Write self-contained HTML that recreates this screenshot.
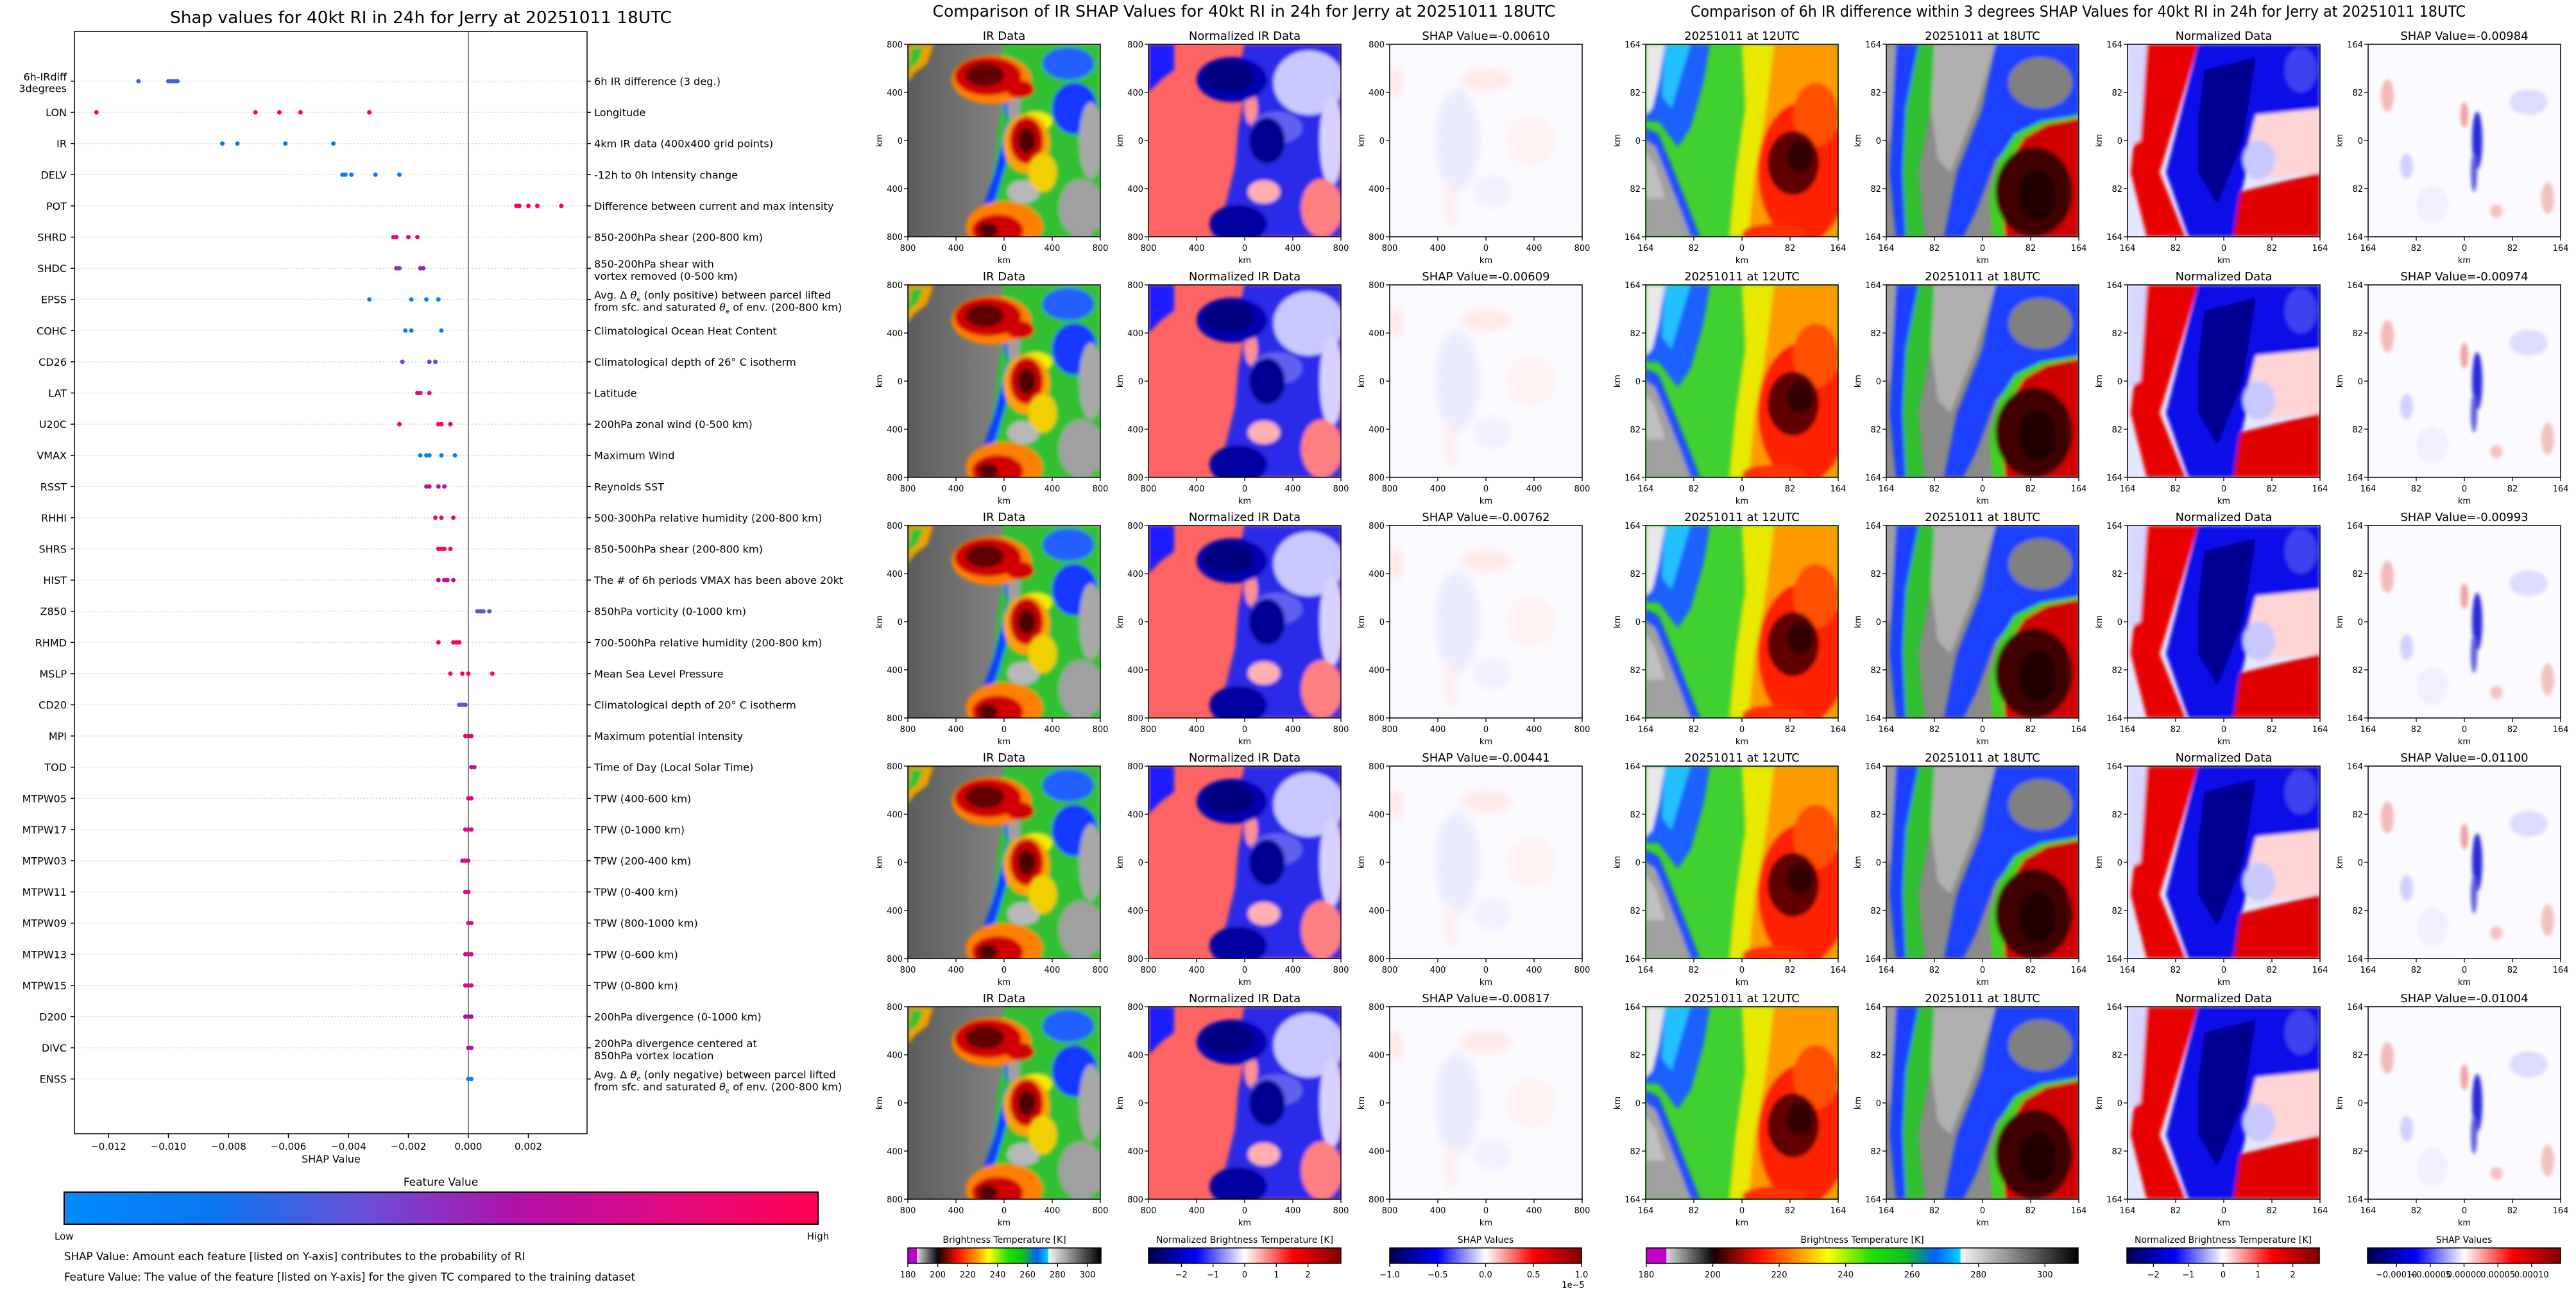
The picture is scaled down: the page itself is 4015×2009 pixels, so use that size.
<!DOCTYPE html>
<html><head><meta charset="utf-8">
<style>
html,body{margin:0;padding:0;background:#fff;}
svg{display:block;font-family:"DejaVu Sans","Liberation Sans",sans-serif;}
</style></head>
<body>
<svg id="fig" xmlns="http://www.w3.org/2000/svg" width="4015" height="2009" viewBox="0 0 4015 2009">
<defs>
  <filter id="bl" x="-5%" y="-5%" width="110%" height="110%"><feGaussianBlur stdDeviation="3"/></filter>
  <filter id="bl6" x="-5%" y="-5%" width="110%" height="110%"><feGaussianBlur stdDeviation="6"/></filter>
  <linearGradient id="grayL" x1="0" x2="1" y1="0" y2="0"><stop offset="0" stop-color="#5c5c5c"/><stop offset="0.6" stop-color="#8a8a8a"/><stop offset="1" stop-color="#b0b0b0"/></linearGradient>
  <linearGradient id="shapCmap" x1="0" x2="1"><stop offset="0" stop-color="#008bfb"/><stop offset="0.2" stop-color="#0b75ee"/><stop offset="0.4" stop-color="#6a4fd8"/><stop offset="0.6" stop-color="#b010a8"/><stop offset="0.8" stop-color="#e00a80"/><stop offset="1" stop-color="#ff0052"/></linearGradient>
  <linearGradient id="irCmap" x1="0" x2="1">
    <stop offset="0" stop-color="#c000c8"/><stop offset="0.046" stop-color="#c000c8"/>
    <stop offset="0.047" stop-color="#d8d8d8"/><stop offset="0.15" stop-color="#101010"/>
    <stop offset="0.16" stop-color="#200000"/><stop offset="0.26" stop-color="#ff1000"/>
    <stop offset="0.36" stop-color="#ffa000"/><stop offset="0.42" stop-color="#ffff00"/>
    <stop offset="0.52" stop-color="#20e000"/><stop offset="0.6" stop-color="#10c020"/>
    <stop offset="0.67" stop-color="#0060ff"/><stop offset="0.725" stop-color="#00d0ff"/>
    <stop offset="0.73" stop-color="#f4f4f4"/><stop offset="1" stop-color="#000000"/>
  </linearGradient>
  <linearGradient id="seis" x1="0" x2="1"><stop offset="0" stop-color="#00004c"/><stop offset="0.25" stop-color="#0000ff"/><stop offset="0.5" stop-color="#ffffff"/><stop offset="0.75" stop-color="#ff0000"/><stop offset="1" stop-color="#800000"/></linearGradient>

  <symbol id="imgIR" viewBox="0 0 300 300" preserveAspectRatio="none">
    <rect width="300" height="300" fill="url(#grayL)"/>
    <g filter="url(#bl)">
      <polygon points="0,0 40,0 30,30 10,45 0,60" fill="#f0a000"/>
      <polygon points="5,5 25,5 15,30 0,40" fill="#30c030"/>
      <polygon points="150,0 300,0 300,300 100,300 120,250 135,190 140,130 150,80 140,40" fill="#30c030"/>
      <polygon points="140,30 160,90 150,140 135,200 115,260 95,300 115,300 140,230 160,160" fill="#1040ff"/>
      <ellipse cx="250" cy="30" rx="40" ry="25" fill="#2060ff"/>
      <ellipse cx="260" cy="100" rx="35" ry="40" fill="#1838ff"/>
      <ellipse cx="285" cy="150" rx="18" ry="60" fill="#a8a8a8"/>
      <ellipse cx="270" cy="255" rx="35" ry="45" fill="#a0a0a0"/>
      <ellipse cx="180" cy="230" rx="25" ry="18" fill="#b8b8b8"/>
      <ellipse cx="165" cy="95" rx="10" ry="25" fill="#a0a0a0"/>
      <ellipse cx="200" cy="120" rx="25" ry="15" fill="#f0f000"/>
      <ellipse cx="130" cy="55" rx="62" ry="38" fill="#ff8000"/>
      <ellipse cx="125" cy="50" rx="52" ry="30" fill="#d00000"/>
      <ellipse cx="175" cy="70" rx="22" ry="14" fill="#d00000"/>
      <ellipse cx="120" cy="48" rx="30" ry="18" fill="#600000"/>
      <ellipse cx="185" cy="155" rx="36" ry="46" fill="#ffa000"/>
      <ellipse cx="185" cy="150" rx="26" ry="36" fill="#c80000"/>
      <ellipse cx="185" cy="150" rx="14" ry="20" fill="#500000"/>
      <ellipse cx="150" cy="285" rx="60" ry="40" fill="#ff8000"/>
      <ellipse cx="140" cy="290" rx="40" ry="25" fill="#d00000"/>
      <ellipse cx="125" cy="290" rx="15" ry="12" fill="#500000"/>
      <ellipse cx="210" cy="200" rx="22" ry="30" fill="#f0d000"/>
    </g>
  </symbol>
  <symbol id="imgNIR" viewBox="0 0 300 300" preserveAspectRatio="none">
    <rect width="300" height="300" fill="#ff6464"/>
    <g filter="url(#bl)">
      <polygon points="0,0 40,0 40,40 20,55 0,75" fill="#1a1aff"/>
      <polygon points="150,0 300,0 300,300 100,300 120,250 135,190 140,130 150,80 140,40" fill="#2a2ae8"/>
      <ellipse cx="250" cy="60" rx="55" ry="50" fill="#c8c8ff"/>
      <ellipse cx="285" cy="150" rx="18" ry="70" fill="#d8d0ff"/>
      <ellipse cx="270" cy="255" rx="32" ry="45" fill="#ff8080"/>
      <ellipse cx="180" cy="230" rx="25" ry="18" fill="#ffb0b0"/>
      <ellipse cx="160" cy="100" rx="10" ry="25" fill="#ff9090"/>
      <ellipse cx="200" cy="130" rx="40" ry="25" fill="#6060f0"/>
      <ellipse cx="130" cy="55" rx="55" ry="35" fill="#0000b0"/>
      <ellipse cx="125" cy="50" rx="40" ry="25" fill="#000080"/>
      <ellipse cx="185" cy="150" rx="28" ry="36" fill="#000090"/>
      <ellipse cx="140" cy="280" rx="45" ry="30" fill="#0000a0"/>
    </g>
  </symbol>
  <symbol id="imgSIR" viewBox="0 0 300 300" preserveAspectRatio="none">
    <rect width="300" height="300" fill="#fbfbff"/>
    <g filter="url(#bl6)" opacity="0.8">
      <ellipse cx="105" cy="150" rx="35" ry="80" fill="#e8e8ff"/>
      <ellipse cx="150" cy="55" rx="40" ry="18" fill="#ffe4e4"/>
      <ellipse cx="10" cy="60" rx="10" ry="25" fill="#ffe0e0"/>
      <ellipse cx="220" cy="150" rx="40" ry="40" fill="#fff0f0"/>
      <ellipse cx="160" cy="230" rx="30" ry="25" fill="#eeeeff"/>
      <ellipse cx="95" cy="250" rx="10" ry="35" fill="#ffe8e8"/>
    </g>
  </symbol>
  <symbol id="img12" viewBox="0 0 300 300" preserveAspectRatio="none">
    <rect width="300" height="300" fill="#40d030"/>
    <g filter="url(#bl)">
      <polygon points="190,0 300,0 300,300 160,300 170,200 185,120" fill="#ff9a00"/>
      <polygon points="150,0 200,0 185,120 170,200 160,300 130,300 140,200 155,100" fill="#e8e800"/>
      <ellipse cx="245" cy="200" rx="70" ry="110" fill="#ff2000"/>
      <ellipse cx="265" cy="110" rx="35" ry="50" fill="#ff5000"/>
      <ellipse cx="230" cy="185" rx="40" ry="50" fill="#600000"/>
      <ellipse cx="240" cy="175" rx="20" ry="25" fill="#300000"/>
      <ellipse cx="200" cy="295" rx="50" ry="15" fill="#ff3000"/>
      <polygon points="0,0 100,0 90,60 70,130 50,160 20,120 0,120" fill="#1e60ff"/>
      <polygon points="30,0 70,0 55,50 40,100 25,80" fill="#20c0ff"/>
      <polygon points="0,0 30,0 20,60 10,100 0,110" fill="#e8e8e8"/>
      <polygon points="0,130 20,140 45,200 65,250 85,300 0,300" fill="#2050ff"/>
      <polygon points="0,150 15,160 35,210 55,260 70,300 0,300" fill="#a0a0a0"/>
      <polygon points="0,170 15,190 30,240 0,240" fill="#c0c0c0"/>
    </g>
  </symbol>
  <symbol id="img18" viewBox="0 0 300 300" preserveAspectRatio="none">
    <rect width="300" height="300" fill="#8a8a8a"/>
    <g filter="url(#bl)">
      <polygon points="15,0 90,0 70,100 50,200 60,300 15,300 5,200 10,100" fill="#30c030"/>
      <polygon points="15,0 50,0 30,100 25,200 30,300 15,300 5,200" fill="#1a40ff"/>
      <polygon points="75,0 170,0 140,100 100,200 80,180 70,100" fill="#b0b0b0"/>
      <polygon points="170,0 300,0 300,120 220,130 170,180 140,260 120,300 90,300 110,200 150,100" fill="#1a40ff"/>
      <ellipse cx="240" cy="60" rx="50" ry="40" fill="#808080"/>
      <polygon points="300,110 240,120 200,140 175,180 160,240 165,300 300,300" fill="#40d020"/>
      <polygon points="300,115 250,125 215,145 190,185 180,240 185,300 300,300" fill="#d00000"/>
      <ellipse cx="230" cy="230" rx="60" ry="70" fill="#400000"/>
      <ellipse cx="235" cy="235" rx="30" ry="40" fill="#200000"/>
      <polygon points="0,0 15,0 5,150 0,150" fill="#a0a0a0"/>
    </g>
  </symbol>
  <symbol id="imgN6" viewBox="0 0 300 300" preserveAspectRatio="none">
    <rect width="300" height="300" fill="#e4e8ff"/>
    <g filter="url(#bl)">
      <polygon points="25,0 110,0 80,100 50,200 90,300 30,300 5,200 15,100" fill="#e80000"/>
      <polygon points="110,0 300,0 300,110 240,130 190,180 175,240 180,300 95,300 60,200 85,100" fill="#1010e8"/>
      <polygon points="120,40 200,20 180,150 140,250 110,200 110,120" fill="#000090"/>
      <polygon points="200,110 300,100 300,200 200,210 185,170" fill="#ffd4d4"/>
      <ellipse cx="205" cy="180" rx="25" ry="30" fill="#c8c8ff"/>
      <polygon points="175,230 300,200 300,300 165,300" fill="#e00000"/>
      <ellipse cx="270" cy="40" rx="25" ry="35" fill="#4040f0"/>
      <polygon points="0,0 30,0 20,150 0,160" fill="#d8d8ff"/>
    </g>
  </symbol>
  <symbol id="imgS6" viewBox="0 0 300 300" preserveAspectRatio="none">
    <rect width="300" height="300" fill="#fbfbff"/>
    <g filter="url(#bl)">
      <ellipse cx="30" cy="80" rx="10" ry="25" fill="#f4b8b8"/>
      <ellipse cx="250" cy="90" rx="30" ry="20" fill="#dcdcff"/>
      <ellipse cx="170" cy="150" rx="8" ry="45" fill="#2a2ad8"/>
      <ellipse cx="165" cy="200" rx="5" ry="30" fill="#6060e0"/>
      <ellipse cx="150" cy="110" rx="6" ry="20" fill="#f0a0a0"/>
      <ellipse cx="60" cy="190" rx="10" ry="20" fill="#d0d0ff"/>
      <ellipse cx="280" cy="240" rx="10" ry="25" fill="#f4c0c0"/>
      <ellipse cx="200" cy="260" rx="10" ry="10" fill="#f4c0c0"/>
      <ellipse cx="100" cy="250" rx="25" ry="30" fill="#f0f0ff"/>
    </g>
  </symbol>
</defs>

<g id="shapPlot">
  <text x="656" y="36" font-size="26" text-anchor="middle" textLength="782" lengthAdjust="spacingAndGlyphs">Shap values for 40kt RI in 24h for Jerry at 20251011 18UTC</text>
  <g id="grid"></g>
  <line x1="730" y1="49" x2="730" y2="1767" stroke="#888" stroke-width="2"/>
  <g id="dots"></g>
  <rect x="116" y="49" width="799" height="1718" fill="none" stroke="#000" stroke-width="1.5"/>
  <g id="ylabels"></g>
  <g id="xticks"></g>
  <text x="516" y="1812" font-size="16" text-anchor="middle">SHAP Value</text>
  <text x="687" y="1848" font-size="17" text-anchor="middle">Feature Value</text>
  <rect x="100" y="1858" width="1175" height="50" fill="url(#shapCmap)" stroke="#000" stroke-width="2"/>
  <text x="85" y="1932" font-size="15">Low</text>
  <text x="1275" y="1932" font-size="15" text-anchor="middle">High</text>
  <text x="100" y="1964" font-size="16.7">SHAP Value: Amount each feature [listed on Y-axis] contributes to the probability of RI</text>
  <text x="100" y="1996" font-size="16.7">Feature Value: The value of the feature [listed on Y-axis] for the given TC compared to the training dataset</text>
</g>

<text x="1939" y="26" font-size="25" text-anchor="middle" textLength="971" lengthAdjust="spacingAndGlyphs">Comparison of IR SHAP Values for 40kt RI in 24h for Jerry at 20251011 18UTC</text>
<text x="3239" y="26" font-size="24" text-anchor="middle" textLength="1208" lengthAdjust="spacingAndGlyphs">Comparison of 6h IR difference within 3 degrees SHAP Values for 40kt RI in 24h for Jerry at 20251011 18UTC</text>
<g id="panels"></g>
<g id="cbars"></g>
</svg>

<script>
const features = ["6h-IRdiff|3degrees","LON","IR","DELV","POT","SHRD","SHDC","EPSS","COHC","CD26","LAT","U20C","VMAX","RSST","RHHI","SHRS","HIST","Z850","RHMD","MSLP","CD20","MPI","TOD","MTPW05","MTPW17","MTPW03","MTPW11","MTPW09","MTPW13","MTPW15","D200","DIVC","ENSS"];
const descriptions = [
 "6h IR difference (3 deg.)","Longitude","4km IR data (400x400 grid points)","-12h to 0h Intensity change",
 "Difference between current and max intensity","850-200hPa shear (200-800 km)",
 "850-200hPa shear with|vortex removed (0-500 km)",
 "Avg. Δ <tspan font-style='italic'>θ</tspan><tspan font-size='10' dy='4'>e</tspan><tspan dy='-4'> (only positive) between parcel lifted</tspan>|from sfc. and saturated <tspan font-style='italic'>θ</tspan><tspan font-size='10' dy='4'>e</tspan><tspan dy='-4'> of env. (200-800 km)</tspan>",
 "Climatological Ocean Heat Content","Climatological depth of 26° C isotherm","Latitude","200hPa zonal wind (0-500 km)",
 "Maximum Wind","Reynolds SST","500-300hPa relative humidity (200-800 km)","850-500hPa shear (200-800 km)",
 "The # of 6h periods VMAX has been above 20kt","850hPa vorticity (0-1000 km)","700-500hPa relative humidity (200-800 km)",
 "Mean Sea Level Pressure","Climatological depth of 20° C isotherm","Maximum potential intensity","Time of Day (Local Solar Time)",
 "TPW (400-600 km)","TPW (0-1000 km)","TPW (200-400 km)","TPW (0-400 km)","TPW (800-1000 km)","TPW (0-600 km)","TPW (0-800 km)",
 "200hPa divergence (0-1000 km)","200hPa divergence centered at|850hPa vortex location",
 "Avg. Δ <tspan font-style='italic'>θ</tspan><tspan font-size='10' dy='4'>e</tspan><tspan dy='-4'> (only negative) between parcel lifted</tspan>|from sfc. and saturated <tspan font-style='italic'>θ</tspan><tspan font-size='10' dy='4'>e</tspan><tspan dy='-4'> of env. (200-800 km)</tspan>"
];
const shapValues = [
 [-0.0110,-0.0100,-0.0099,-0.0098,-0.0097],
 [-0.0124,-0.0071,-0.0063,-0.0056,-0.0033],
 [-0.0082,-0.0077,-0.0061,-0.0045],
 [-0.0042,-0.0041,-0.0039,-0.0031,-0.0023],
 [0.0016,0.0017,0.0020,0.0023,0.0031],
 [-0.0025,-0.0024,-0.0020,-0.0017],
 [-0.0024,-0.0023,-0.0016,-0.0015],
 [-0.0033,-0.0019,-0.0014,-0.0010],
 [-0.0021,-0.0019,-0.0009],
 [-0.0022,-0.0013,-0.0011],
 [-0.0017,-0.0016,-0.0013],
 [-0.0023,-0.0010,-0.0009,-0.0006],
 [-0.0016,-0.0014,-0.0013,-0.0009,-0.00045],
 [-0.0014,-0.0013,-0.0010,-0.0008],
 [-0.0011,-0.0009,-0.0005],
 [-0.0010,-0.0009,-0.0008,-0.0006],
 [-0.0010,-0.0008,-0.0007,-0.0005],
 [0.0003,0.0004,0.0005,0.0007],
 [-0.0010,-0.0005,-0.0004,-0.0003],
 [-0.0006,-0.0002,0.0000,0.0008],
 [-0.0003,-0.0002,-0.0001],
 [-0.0001,0.0000,0.0001],
 [0.0001,0.0002],
 [0.0000,0.0001],
 [-0.0001,0.0000,0.0001],
 [-0.0002,-0.0001,0.0000],
 [-0.0001,0.0000],
 [0.0000,0.0001],
 [-0.0001,0.0000,0.0001],
 [-0.0001,0.0000,0.0001],
 [-0.0001,0.0000,0.0001],
 [0.0000,0.0001],
 [0.0000,0.0001]
];
const featureValues = [0.3,1,0.22,0.12,1,0.82,0.5,0.05,0.15,0.45,0.82,0.88,0.1,0.68,0.9,0.9,0.65,0.35,0.95,0.95,0.42,0.85,0.7,0.8,0.8,0.75,0.8,0.75,0.8,0.82,0.62,0.6,0.08];
const xTicks = [-0.012,-0.010,-0.008,-0.006,-0.004,-0.002,0.000,0.002];
const xTickLabels = ["−0.012","−0.010","−0.008","−0.006","−0.004","−0.002","0.000","0.002"];

const NS = "http://www.w3.org/2000/svg";
function mk(tag, attrs, parent){const e=document.createElementNS(NS,tag);for(const k in attrs)e.setAttribute(k,attrs[k]);parent.appendChild(e);return e;}
const xScale = v => 730 + v/0.002*93.5;
const yScale = i => 126.5 + i*48.6;
const cstops = [[0,[0,139,251]],[0.2,[11,117,238]],[0.4,[106,79,216]],[0.6,[176,16,168]],[0.8,[224,10,128]],[1,[255,0,82]]];
function cmap(t){for(let i=1;i<cstops.length;i++){if(t<=cstops[i][0]){const a=cstops[i-1],b=cstops[i];const f=(t-a[0])/(b[0]-a[0]);return "rgb("+a[1].map((c,j)=>Math.round(c+(b[1][j]-c)*f)).join(",")+")";}}return "rgb(255,0,82)";}

const grid=document.getElementById('grid'), dots=document.getElementById('dots'), yl=document.getElementById('ylabels'), xt=document.getElementById('xticks');
features.forEach((f,i)=>{
  const y=yScale(i);
  const gl=mk('line',{x1:116,x2:915,y1:y,y2:y,stroke:'#ccc','stroke-width':1.2,'stroke-dasharray':'2,3'},grid);
  
  
  mk('line',{x1:110,x2:116,y1:y,y2:y,stroke:'#000','stroke-width':1.5},yl);
  mk('line',{x1:915,x2:921,y1:y,y2:y,stroke:'#000','stroke-width':1.5},yl);
  const parts=f.split('|');
  const t=mk('text',{x:104,y:parts.length>1?y-1:y+6,'font-size':16,'text-anchor':'end'},yl);
  
  
  if(parts.length>1){t.innerHTML="<tspan x='104'>"+parts[0]+"</tspan><tspan x='104' dy='18'>"+parts[1]+"</tspan>";}else t.textContent=f;
  const dl=descriptions[i].split('|');
  const d=mk('text',{x:926,y:dl.length>1?y-1:y+6,'font-size':16.2},yl);
  
  
  if(dl.length>1){d.innerHTML="<tspan x='926'>"+dl[0]+"</tspan><tspan x='926' dy='19'>"+dl[1]+"</tspan>";}else d.innerHTML=dl[0];
  shapValues[i].forEach((v,k)=>{
    const c=mk('circle',{cx:xScale(v),cy:y,r:3.5,fill:cmap(featureValues[i])},dots);
    
    
  });
});
xTicks.forEach((v,i)=>{
  const x=xScale(v);
  mk('line',{x1:x,x2:x,y1:1767,y2:1774,stroke:'#000','stroke-width':1.5},xt);
  const t=mk('text',{x:x,y:1792,'font-size':15,'text-anchor':'middle'},xt);
  t.textContent=xTickLabels[i];
  
  
});

const shapIR = ["-0.00610","-0.00609","-0.00762","-0.00441","-0.00817"];
const shap6h = ["-0.00984","-0.00974","-0.00993","-0.01100","-0.01004"];
const rowTops = [69,444,819,1194,1569];
const panelCols = [
 {x:1415,img:'imgIR',title:'IR Data',ticks:['800','400','0','400','800'],key:'ir-data'},
 {x:1790,img:'imgNIR',title:'Normalized IR Data',ticks:['800','400','0','400','800'],key:'normalized-ir'},
 {x:2166,img:'imgSIR',title:'SHAP Value=',ticks:['800','400','0','400','800'],key:'ir-shap',vals:shapIR},
 {x:2565,img:'img12',title:'20251011 at 12UTC',ticks:['164','82','0','82','164'],key:'ir-12utc'},
 {x:2940,img:'img18',title:'20251011 at 18UTC',ticks:['164','82','0','82','164'],key:'ir-18utc'},
 {x:3316,img:'imgN6',title:'Normalized Data',ticks:['164','82','0','82','164'],key:'normalized-diff'},
 {x:3691,img:'imgS6',title:'SHAP Value=',ticks:['164','82','0','82','164'],key:'diff-shap',vals:shap6h}
];
const P=document.getElementById('panels'); const W=300;
rowTops.forEach((top,r)=>{
  panelCols.forEach(pc=>{
    const g=mk('g',{},P);
    
    
    mk('use',{href:'#'+pc.img,x:pc.x,y:top,width:W,height:W},g);
    mk('rect',{x:pc.x,y:top,width:W,height:W,fill:'none',stroke:'#000','stroke-width':1.5},g);
    const tt=mk('text',{x:pc.x+W/2,y:top-7,'font-size':18,'text-anchor':'middle'},g);
    tt.textContent=pc.vals?pc.title+pc.vals[r]:pc.title;
    
    
    pc.ticks.forEach((lab,k)=>{
      const p=k*W/4;
      mk('line',{x1:pc.x+p,x2:pc.x+p,y1:top+W,y2:top+W+6,stroke:'#000','stroke-width':1.3},g);
      const a=mk('text',{x:pc.x+p,y:top+W+22,'font-size':13,'text-anchor':'middle'},g); a.textContent=lab;
      mk('line',{x1:pc.x-6,x2:pc.x,y1:top+p,y2:top+p,stroke:'#000','stroke-width':1.3},g);
      const b=mk('text',{x:pc.x-8,y:top+p+5,'font-size':13,'text-anchor':'end'},g); b.textContent=lab;
    });
    const xl=mk('text',{x:pc.x+W/2,y:top+W+41,'font-size':13,'text-anchor':'middle'},g); xl.textContent='km';
    const ylb=mk('text',{x:pc.x-40,y:top+W/2,'font-size':13,'text-anchor':'middle',transform:'rotate(-90 '+(pc.x-40)+' '+(top+W/2)+')'},g); ylb.textContent='km';
  });
});

const cbLabels = ["Brightness Temperature [K]","Normalized Brightness Temperature [K]","SHAP Values","Brightness Temperature [K]","Normalized Brightness Temperature [K]","SHAP Values"];
const cbTickLabels = [
 ["180","200","220","240","260","280","300"],
 ["−2","−1","0","1","2"],
 ["−1.0","−0.5","0.0","0.5","1.0"],
 ["180","200","220","240","260","280","300"],
 ["−2","−1","0","1","2"],
 ["−0.00010","−0.00005","0.00000","0.00005","0.00010"]
];
const cbTickValues = [
 [180,200,220,240,260,280,300],[-2,-1,0,1,2],[-1,-0.5,0,0.5,1],
 [180,200,220,240,260,280,300],[-2,-1,0,1,2],[-0.0001,-0.00005,0,0.00005,0.0001]
];
const cbRanges = [[180,309],[-3.04,3.04],[-1,1],[180,310],[-2.76,2.76],[-0.000143,0.000143]];
const cbGeom = [[1415,301,'irCmap'],[1790,300,'seis'],[2166,299,'seis'],[2566,673,'irCmap'],[3315,300,'seis'],[3690,301,'seis']];
const CB=document.getElementById('cbars');
cbGeom.forEach((gm,i)=>{
  const [x,w,grad]=gm;
  const g=mk('g',{},CB);
  
  
  const l=mk('text',{x:x+w/2,y:1937,'font-size':14,'text-anchor':'middle'},g); l.textContent=cbLabels[i];
  mk('rect',{x:x,y:1945,width:w,height:24,fill:'url(#'+grad+')',stroke:'#000','stroke-width':1.5},g);
  const [a,b]=cbRanges[i];
  cbTickValues[i].forEach((v,k)=>{
    const tx=x+(v-a)/(b-a)*w;
    mk('line',{x1:tx,x2:tx,y1:1969,y2:1975,stroke:'#000','stroke-width':1.3},g);
    const t=mk('text',{x:tx,y:1991,'font-size':13,'text-anchor':'middle'},g); t.textContent=cbTickLabels[i][k];
  });
});
const e5=mk('text',{x:2452,y:2007,'font-size':13,'text-anchor':'middle'},CB);
e5.textContent='1e−5';


</script>
</body></html>
